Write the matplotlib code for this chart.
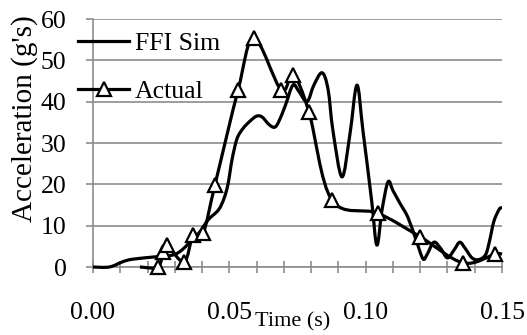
import matplotlib
matplotlib.use("Agg")
import numpy as np
import matplotlib.pyplot as plt
from matplotlib.path import Path
from matplotlib.patches import PathPatch
from matplotlib.lines import Line2D
from matplotlib.ticker import MultipleLocator, FormatStrFormatter

# FFI simulation trace (time in s, acceleration in g's)
sim_time = [0.000, 0.006, 0.011, 0.0147, 0.0235, 0.0293, 0.0326, 0.0356,
            0.0392, 0.0422, 0.046, 0.048, 0.0495, 0.051, 0.0528, 0.055,
            0.0576, 0.060, 0.062, 0.0645, 0.0665, 0.068, 0.0705, 0.0733,
            0.0755, 0.0785, 0.081, 0.084, 0.0862, 0.088, 0.0913, 0.0942,
            0.0968, 0.099, 0.1022, 0.1041, 0.106, 0.1082, 0.110, 0.1125,
            0.1155, 0.1185, 0.121, 0.1225, 0.125, 0.1275, 0.130, 0.1325,
            0.1345, 0.1365, 0.139, 0.1415, 0.144, 0.1455, 0.147, 0.149, 0.150]
sim_acc = [0.0, 0.0, 1.3, 1.9, 2.5, 2.9, 4.1, 6.1,
           8.5, 11.4, 13.8, 16.5, 20.0, 26.0, 31.0, 33.5,
           35.3, 36.5, 36.3, 34.5, 33.8, 35.0, 39.0, 44.0,
           42.5, 40.0, 44.0, 47.0, 43.0, 33.0, 21.8, 32.0,
           44.0, 33.0, 16.0, 5.3, 13.8, 20.6, 18.5, 15.5,
           12.0, 6.5, 2.0, 3.0, 6.0, 4.5, 2.2, 4.2,
           6.0, 4.5, 2.2, 1.8, 3.0, 6.5, 11.0, 14.0, 14.3]

# measured trace
act_time = [0.0172, 0.0238, 0.0257, 0.0271, 0.0334, 0.0367, 0.0404, 0.0447,
            0.0532, 0.059, 0.069, 0.0734, 0.0792, 0.0876, 0.1045, 0.120,
            0.1357, 0.1474, 0.150]
act_acc = [0.0, 0.0, 3.6, 5.3, 1.2, 7.7, 8.2, 19.8,
           42.8, 55.4, 42.8, 46.5, 37.5, 16.2, 13.0, 7.3,
           1.0, 3.1, 3.1]


def smooth_path(xs, ys):
    """Excel-style smoothed line: cubic Bezier segments through the points."""
    pts = np.column_stack([xs, ys])
    n = len(pts)
    verts = [pts[0]]
    codes = [Path.MOVETO]
    for i in range(n - 1):
        p0 = pts[max(i - 1, 0)]
        p1 = pts[i]
        p2 = pts[i + 1]
        p3 = pts[min(i + 2, n - 1)]
        verts += [p1 + (p2 - p0) / 6.0, p2 - (p3 - p1) / 6.0, p2]
        codes += [Path.CURVE4] * 3
    return Path(verts, codes)


plt.rcParams["font.family"] = ["Liberation Serif", "DejaVu Serif"]

fig = plt.figure(figsize=(5.27, 3.35), dpi=100)
W, H = 527.0, 335.0
ax = fig.add_axes([93 / W, (H - 267) / H, (502 - 93) / W, (267 - 19) / H])

grid_col = "#8c8c8c"
lw = 2.3

ax.add_patch(PathPatch(smooth_path(sim_time, sim_acc), fill=False,
                       ec="black", lw=lw, clip_on=False, zorder=3,
                       capstyle="butt", joinstyle="round"))
ax.add_patch(PathPatch(smooth_path(act_time, act_acc), fill=False,
                       ec="black", lw=lw, clip_on=False, zorder=4,
                       capstyle="butt", joinstyle="round"))
ax.plot(act_time[1:-1], act_acc[1:-1], ls="none", marker="^", ms=9.5,
        mfc="white", mec="black", mew=1.6, clip_on=False, zorder=5)

ax.set_xlim(0, 0.15)
ax.set_ylim(0, 60)
ax.xaxis.set_major_locator(MultipleLocator(0.05))
ax.xaxis.set_minor_locator(MultipleLocator(0.01))
ax.xaxis.set_major_formatter(FormatStrFormatter("%.2f"))
ax.yaxis.set_major_locator(MultipleLocator(10))

ax.grid(axis="y", color=grid_col, lw=1.2)
ax.set_axisbelow(True)
for side in ["top", "right"]:
    ax.spines[side].set_visible(False)
for side in ["left", "bottom"]:
    ax.spines[side].set_color(grid_col)
    ax.spines[side].set_linewidth(1.2)

ax.tick_params(axis="x", which="both", direction="inout", length=9,
               width=1.2, color=grid_col, labelsize=18.5, pad=21)
ax.tick_params(axis="y", direction="out", length=5, width=1.2,
               color=grid_col, labelsize=18.5, pad=14)

ax.set_xlabel("Time (s)", fontsize=16, va="center")
ax.xaxis.set_label_coords(0.489, -0.222)
ax.set_ylabel("Acceleration (g's)", fontsize=21, va="center")
ax.yaxis.set_label_coords(-0.168, 0.60)

handles = [Line2D([], [], color="black", lw=lw),
           Line2D([], [], color="black", lw=lw, marker="^", ms=9.5,
                  mfc="white", mec="black", mew=1.6)]
ax.legend(handles, ["FFI Sim", "Actual"], loc="upper left",
          bbox_to_anchor=(78 / W, (H - 32) / H),
          bbox_transform=fig.transFigure, frameon=False,
          fontsize=18.5, handlelength=2.0, handletextpad=0.2,
          labelspacing=0.98, borderpad=0, borderaxespad=0)

fig.savefig("out.png", dpi=100)
